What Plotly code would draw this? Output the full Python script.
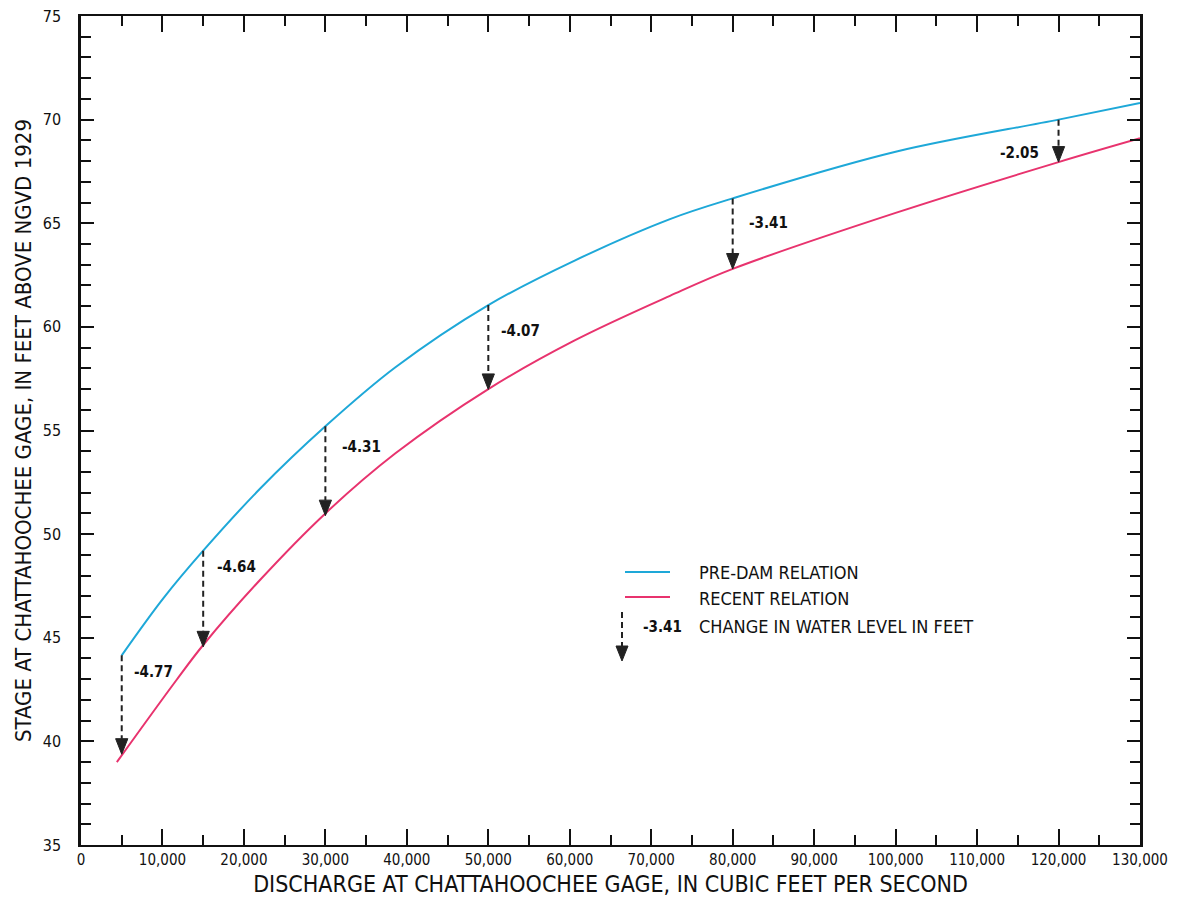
import plotly.graph_objects as go

# ---------------- data ----------------
predam_q = [5000, 10100, 15000, 22000, 30000, 38600, 50000, 60600, 72300, 80000, 100000, 120000, 130000]
predam_stage = [44.15, 46.9, 49.2, 52.2, 55.2, 58.05, 61.05, 63.2, 65.2, 66.2, 68.45, 70.0, 70.8]

recent_q = [4400, 11700, 15000, 22000, 30000, 38600, 50000, 60600, 72300, 80000, 100000, 120000, 130000]
recent_stage = [39.0, 42.95, 44.65, 47.8, 51.0, 53.9, 57.0, 59.35, 61.5, 62.8, 65.5, 67.95, 69.1]

arrow_q = [5000, 15000, 30000, 50000, 80000, 120000]
arrow_top = [44.15, 49.2, 55.2, 61.05, 66.2, 70.0]
arrow_change = [-4.77, -4.64, -4.31, -4.07, -3.41, -2.05]

x_tickvals = list(range(0, 130001, 10000))
y_tickvals = list(range(35, 76, 5))

# ---------------- style ----------------
FONT = "Liberation Sans Narrow, DejaVu Sans Condensed, Roboto Condensed, Arial Narrow, sans-serif"
BLUE = "#1ea8d8"
PINK = "#e8336e"
ARROW = "#222222"
HEAD_H = 0.75      # arrowhead height in y units
HEAD_HW = 750      # arrowhead half width in x units

W, H = 1180, 907
ML, MR, MT, MB = 81, 40, 16, 62

def px(xp):
    return (xp - ML) / (W - ML - MR)

def py(yp):
    return (H - MB - yp) / (H - MT - MB)

fig = go.Figure()
fig.add_trace(go.Scatter(x=predam_q, y=predam_stage, mode="lines",
                         line=dict(color=BLUE, width=2, shape="spline", smoothing=1.0),
                         showlegend=False, hoverinfo="skip"))
fig.add_trace(go.Scatter(x=recent_q, y=recent_stage, mode="lines",
                         line=dict(color=PINK, width=2, shape="spline", smoothing=1.0),
                         showlegend=False, hoverinfo="skip"))

shapes = []
annotations = []
# label offsets (pixels): (xanchor, xshift, yshift)
label_pos = [("left", 10, -6), ("left", 12, -5), ("left", 15, -10),
             ("left", 11, -15), ("left", 14, -14), ("right", -18, -22)]
for q, top, ch, lp in zip(arrow_q, arrow_top, arrow_change, label_pos):
    tip = top + ch
    shapes.append(dict(type="line", xref="x", yref="y", x0=q, x1=q, y0=top, y1=tip + HEAD_H,
                       line=dict(color=ARROW, width=2, dash="6px,4px")))
    shapes.append(dict(type="path", xref="x", yref="y",
                       path=f"M{q - HEAD_HW},{tip + HEAD_H} L{q + HEAD_HW},{tip + HEAD_H} L{q},{tip} Z",
                       fillcolor=ARROW, line=dict(color=ARROW, width=1)))
    annotations.append(dict(x=q, y=top, xref="x", yref="y", text=f"<b>{ch:.2f}</b>",
                            showarrow=False, xanchor=lp[0], yanchor="top",
                            xshift=lp[1], yshift=lp[2],
                            font=dict(family=FONT, size=15, color="#111")))

# legend (hand drawn)
shapes.append(dict(type="line", xref="paper", yref="paper", x0=px(625), x1=px(670), y0=py(572), y1=py(572),
                   line=dict(color=BLUE, width=2)))
shapes.append(dict(type="line", xref="paper", yref="paper", x0=px(625), x1=px(670), y0=py(597), y1=py(597),
                   line=dict(color=PINK, width=2)))
shapes.append(dict(type="line", xref="paper", yref="paper", x0=px(622), x1=px(622), y0=py(612), y1=py(646),
                   line=dict(color=ARROW, width=2, dash="6px,4px")))
shapes.append(dict(type="path", xref="paper", yref="paper",
                   path=f"M{px(616)},{py(646)} L{px(628)},{py(646)} L{px(622)},{py(661)} Z",
                   fillcolor=ARROW, line=dict(color=ARROW, width=1)))
legend_texts = [("PRE-DAM RELATION", 572), ("RECENT RELATION", 598), ("CHANGE IN WATER LEVEL IN FEET", 626)]
for t, yy in legend_texts:
    annotations.append(dict(x=px(697), y=py(yy), xref="paper", yref="paper", text=t, showarrow=False,
                            xanchor="left", yanchor="middle", font=dict(family=FONT, size=18, color="#111")))
annotations.append(dict(x=px(641), y=py(627), xref="paper", yref="paper", text=f"<b>{arrow_change[4]:.2f}</b>",
                        showarrow=False, xanchor="left", yanchor="middle",
                        font=dict(family=FONT, size=15, color="#111")))

fig.update_layout(
    width=W, height=H,
    margin=dict(l=ML, r=MR, t=MT, b=MB),
    paper_bgcolor="white", plot_bgcolor="white",
    shapes=shapes, annotations=annotations,
    font=dict(family=FONT, color="#111"),
    xaxis=dict(range=[0, 130000], tickvals=x_tickvals, tickformat=",", ticks="inside", ticklen=16,
               tickwidth=2, tickcolor="#111", showline=True, linewidth=2, linecolor="#111", mirror="ticks",
               showgrid=False, zeroline=False, automargin=False,
               minor=dict(dtick=5000, ticks="inside", ticklen=10, tickwidth=1.5, tickcolor="#111", showgrid=False),
               tickfont=dict(family=FONT, size=15),
               title=dict(text="DISCHARGE AT CHATTAHOOCHEE GAGE, IN CUBIC FEET PER SECOND",
                          font=dict(family=FONT, size=23), standoff=8)),
    yaxis=dict(range=[35, 75], tickvals=y_tickvals, ticks="inside", ticklen=13,
               tickwidth=2, tickcolor="#111", showline=True, linewidth=2.5, linecolor="#111", mirror="ticks",
               showgrid=False, zeroline=False, ticklabelstandoff=14, automargin=False,
               minor=dict(dtick=1, ticks="inside", ticklen=10, tickwidth=1.5, tickcolor="#111", showgrid=False),
               tickfont=dict(family=FONT, size=16),
               title=dict(text="STAGE AT CHATTAHOOCHEE GAGE, IN FEET ABOVE NGVD 1929",
                          font=dict(family=FONT, size=22), standoff=6)),
)

fig.write_html("out.html", config={"displayModeBar": False},
               post_script="document.body.style.margin='0';document.body.style.overflow='hidden';")
